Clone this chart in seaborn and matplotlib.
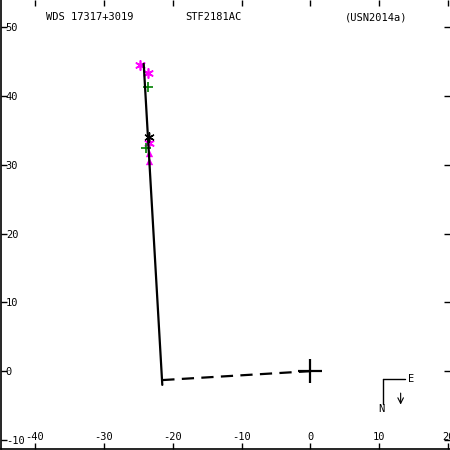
import pandas as pd
import seaborn as sns
import matplotlib
matplotlib.use('Agg')
import matplotlib.pyplot as plt

# orbit track (solid) and node line (dashed), arcsec
orbit_x = [-24.2, -21.5]
orbit_y = [44.7, -2.0]
node_x = [-21.5, 0.0]
node_y = [-1.3, 0.0]

# measures
mag_star_x = [-24.7, -23.6, -23.5]
mag_star_y = [44.5, 43.4, 33.2]
blk_star_x = [-23.5]
blk_star_y = [34.0]
grn_plus_x = [-23.6, -23.8]
grn_plus_y = [41.3, 32.4]
mag_tri_x = [-23.4, -23.4]
mag_tri_y = [31.7, 30.6]

xticks = [-40, -30, -20, -10, 0, 10, 20]
yticks = [-10, 0, 10, 20, 30, 40, 50]

sns.set_style('ticks', {'axes.edgecolor': 'black', 'text.color': 'black',
                        'xtick.color': 'black', 'ytick.color': 'black'})
plt.rcParams['font.family'] = ['DejaVu Sans Mono']
plt.rcParams['axes.unicode_minus'] = False
fs = 7.5

fig = plt.figure(figsize=(4.5, 4.5), dpi=100)
ax = fig.add_axes([0.002, 0.002, 0.997, 0.997])

sns.lineplot(x=orbit_x, y=orbit_y, sort=False, estimator=None, color='black', lw=1.6, ax=ax)
sns.lineplot(x=node_x, y=node_y, sort=False, estimator=None, color='black', lw=1.6,
             dashes=False, ax=ax)
ax.lines[-1].set_dashes((5.5, 3.3))

sns.scatterplot(x=mag_star_x, y=mag_star_y, marker=(6, 2, 0), color='magenta', s=45, linewidth=1.2, ax=ax)
sns.scatterplot(x=blk_star_x, y=blk_star_y, marker=(6, 2, 0), color='black', s=45, linewidth=1.0, ax=ax)
sns.scatterplot(x=grn_plus_x, y=grn_plus_y, marker='+', color='green', s=45, linewidth=1.2, ax=ax)
sns.scatterplot(x=mag_tri_x, y=mag_tri_y, marker='^', color='magenta', s=28, linewidth=0, ax=ax)
sns.scatterplot(x=[0.0], y=[0.0], marker='+', color='black', s=300, linewidth=1.6, ax=ax)

ax.set_xlim(-44.93, 20.2)
ax.set_ylim(-11.34, 53.92)
ax.set_xticks(xticks)
ax.set_yticks(yticks)
ax.tick_params(direction='in', length=4, width=1, top=True, right=True,
               labelsize=fs, colors='black')
ax.tick_params(axis='x', pad=-12.5)
ax.tick_params(axis='y', pad=-3.5)
for lab in ax.get_yticklabels():
    lab.set_horizontalalignment('left')
ax.set_xlabel('')
ax.set_ylabel('')
for s in ['top', 'right']:
    ax.spines[s].set_visible(False)
for s in ['left', 'bottom']:
    ax.spines[s].set_linewidth(1.2)
    ax.spines[s].set_color('black')

ax.text(0.1, 0.962, 'WDS 17317+3019', transform=ax.transAxes, fontsize=fs, va='center', color='black')
ax.text(0.411, 0.962, 'STF2181AC', transform=ax.transAxes, fontsize=fs, va='center', color='black')
ax.text(0.767, 0.962, '(USN2014a)', transform=ax.transAxes, fontsize=fs, va='center', color='black')

# compass
ax.plot([0.851, 0.9], [0.156, 0.156], transform=ax.transAxes, color='black', lw=1)
ax.plot([0.851, 0.851], [0.156, 0.1], transform=ax.transAxes, color='black', lw=1)
ax.text(0.907, 0.156, 'E', transform=ax.transAxes, fontsize=fs, va='center', ha='left', color='black')
ax.text(0.849, 0.089, 'N', transform=ax.transAxes, fontsize=fs, va='center', ha='center', color='black')
ax.annotate('', xy=(0.891, 0.093), xytext=(0.891, 0.131), xycoords='axes fraction',
            arrowprops=dict(arrowstyle='->', color='black', lw=0.8))

fig.savefig('out.png', dpi=100)
